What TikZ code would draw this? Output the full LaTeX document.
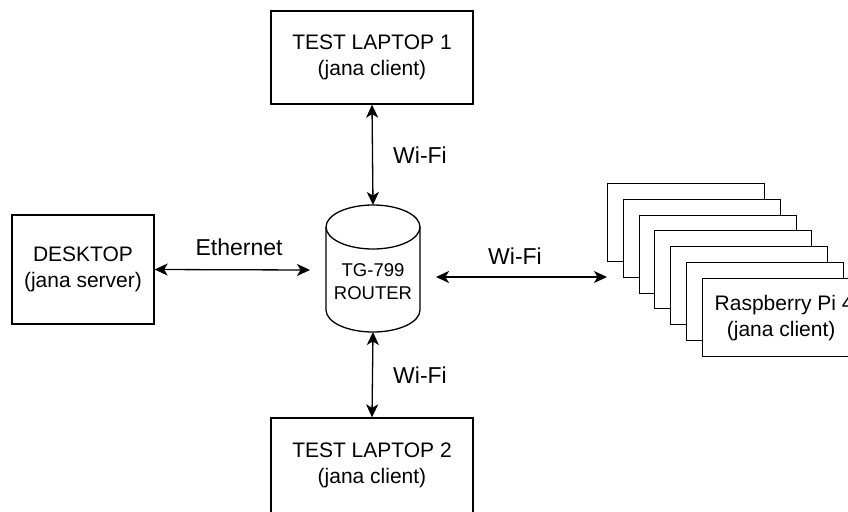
\documentclass[tikz,border=0pt]{standalone}
\usepackage{fontspec}
\setmainfont{Liberation Sans}
\usetikzlibrary{arrows.meta}
\tikzset{
  box/.style={draw, line width=1.3pt, fill=white, align=center, inner sep=0pt,
    font=\fontsize{21}{26}\selectfont},
  stackbox/.style={draw, line width=1.3pt, fill=white, minimum width=157pt, minimum height=78pt, inner sep=0pt},
  cyl/.style={draw, line width=1.3pt, fill=white},
  link/.style={line width=1.3pt,
    {Stealth[length=13pt,width=12pt,inset=3.5pt]}-{Stealth[length=13pt,width=12pt,inset=3.5pt]}},
  lbl/.style={font=\fontsize{23}{27}\selectfont, inner sep=0pt},
}
\begin{document}
\begin{tikzpicture}[x=1pt,y=-1pt]
\useasboundingbox (0,0) rectangle (848,511);
\clip (0,0) rectangle (848,511);
% boxes
\node[box, minimum width=202pt, minimum height=93pt] (lap1) at (372,57.5) {TEST LAPTOP 1\\(jana client)};
\node[box, minimum width=142pt, minimum height=109pt] (desk) at (83,269.5) {DESKTOP\\(jana server)};
\node[box, minimum width=202pt, minimum height=95pt] (lap2) at (372,465.5) {TEST LAPTOP 2\\(jana client)};
% router cylinder
\path[cyl] (326,227) -- (326,310) arc[start angle=180, end angle=0, x radius=47, y radius=22] -- (420,227);
\path[cyl] (373,227) ellipse [x radius=47, y radius=22];
\node[font=\fontsize{18.5}{23}\selectfont, align=center] (router) at (373,282) {TG-799\\ROUTER};
\coordinate (rtop) at (373,205);
\coordinate (rbot) at (373,332);
\coordinate (rleft) at (310,270);
\coordinate (rright) at (436,277);
% raspberry stack
\foreach \k/\o in {0/0,1/16,2/32,3/47,4/63,5/79} {
  \node[stackbox, anchor=north west] (pi\k) at ({607+\o},{183+\o}) {};
}
\node[stackbox, anchor=north west, align=center, font=\fontsize{21}{26}\selectfont] (pi6) at (702,278) {\hspace*{6pt}Raspberry Pi 4\\(jana client)};
\coordinate (pin) at (607,277);
% connectors
\draw[link] (lap1.south) -- (rtop);
\draw[link] (rbot) -- (lap2.north);
\draw[link] (desk.east) -- (rleft);
\draw[link] (rright) -- (pin);
% labels
\node[lbl] (l1) at (420,155) {Wi-Fi};
\node[lbl] (l2) at (420,375) {Wi-Fi};
\node[lbl] (l3) at (239,247) {Ethernet};
\node[lbl] (l4) at (515,256) {Wi-Fi};
\end{tikzpicture}
\end{document}
